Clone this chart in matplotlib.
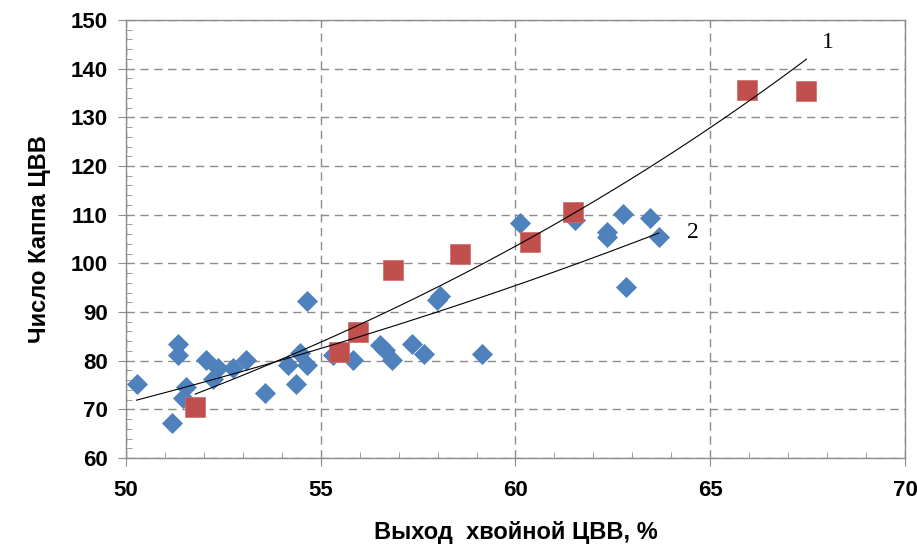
import numpy as np
import matplotlib.pyplot as plt
from matplotlib.ticker import MultipleLocator

# blue diamonds (series 2)
x_blue = [50.27, 51.17, 51.34, 51.34, 51.54, 51.47, 52.05, 52.36, 52.23, 52.75,
          53.08, 53.57, 54.17, 54.36, 54.47, 54.64, 54.64, 55.31, 55.83, 56.52,
          56.65, 56.82, 57.34, 57.65, 57.98, 58.06, 59.15, 60.12, 61.53, 62.34,
          62.34, 62.75, 63.46, 63.68, 62.83]
y_blue = [75.3, 67.1, 83.4, 81.1, 74.6, 72.3, 80.1, 78.5, 76.2, 78.4,
          80.1, 73.3, 79.1, 75.3, 81.6, 79.1, 92.3, 81.1, 80.1, 83.2,
          82.2, 80.1, 83.4, 81.4, 92.4, 93.3, 81.4, 108.3, 108.9, 106.5,
          105.4, 110.2, 109.3, 105.4, 95.2]

# red squares (series 1)
x_red = [51.78, 55.47, 55.96, 56.85, 58.58, 60.37, 61.47, 65.95, 67.47]
y_red = [70.5, 81.8, 85.8, 98.6, 102.0, 104.4, 110.6, 135.6, 135.4]

x_label = "Выход  хвойной ЦВВ, %"
y_label = "Число Каппа ЦВВ"

plt.rcParams['font.family'] = ['Liberation Sans', 'DejaVu Sans']

fig = plt.figure(figsize=(9.17, 5.47), dpi=100)
ax = fig.add_axes([0.1374, 0.1627, 0.8495, 0.8007])


def exp_trend(x, y):
    # Excel-style exponential trendline: fit ln(y) linear in x
    b, ln_a = np.polyfit(x, np.log(y), 1)
    xs = np.linspace(min(x), max(x), 200)
    return xs, np.exp(ln_a) * np.exp(b * xs)


ax.plot(x_blue, y_blue, 'D', color='#4F81BD', markersize=10,
        markeredgecolor='#4A7EBB', markeredgewidth=0.5, zorder=3)
ax.plot(x_red, y_red, 's', color='#C0504D', markersize=14,
        markeredgecolor='#D06A67', markeredgewidth=0.5, zorder=4)

xs1, ys1 = exp_trend(x_red, y_red)
xs2, ys2 = exp_trend(x_blue, y_blue)
ax.plot(xs1, ys1, color='black', lw=0.8, zorder=5)
ax.plot(xs2, ys2, color='black', lw=0.8, zorder=5)

ax.text(68.02, 145.4, "1", fontsize=17, family='Liberation Serif',
        ha='center', va='center')
ax.text(64.56, 106.4, "2", fontsize=17, family='Liberation Serif',
        ha='center', va='center')

ax.set_xlim(50, 70)
ax.set_ylim(60, 150)
ax.xaxis.set_major_locator(MultipleLocator(5))
ax.xaxis.set_minor_locator(MultipleLocator(1))
ax.yaxis.set_major_locator(MultipleLocator(10))
ax.yaxis.set_minor_locator(MultipleLocator(2))

ax.grid(True, which='major', color='#8c8c8c', linestyle=(0, (6, 4)), lw=1)
ax.set_axisbelow(True)
for s in ax.spines.values():
    s.set_color('#8c8c8c')
    s.set_linewidth(1)

ax.tick_params(which='major', direction='out', length=6, color='#8c8c8c',
               labelsize=16)
ax.tick_params(axis='x', which='major', pad=10)
ax.tick_params(axis='y', which='major', pad=7)
ax.tick_params(which='minor', direction='in', length=4, color='#8c8c8c')
for lab in ax.get_xticklabels() + ax.get_yticklabels():
    lab.set_fontweight('bold')

ax.set_xlabel(x_label, fontsize=17, fontweight='bold', labelpad=14)
ax.set_ylabel(y_label, fontsize=17, fontweight='bold', labelpad=14)

fig.savefig('out.png', dpi=100)
